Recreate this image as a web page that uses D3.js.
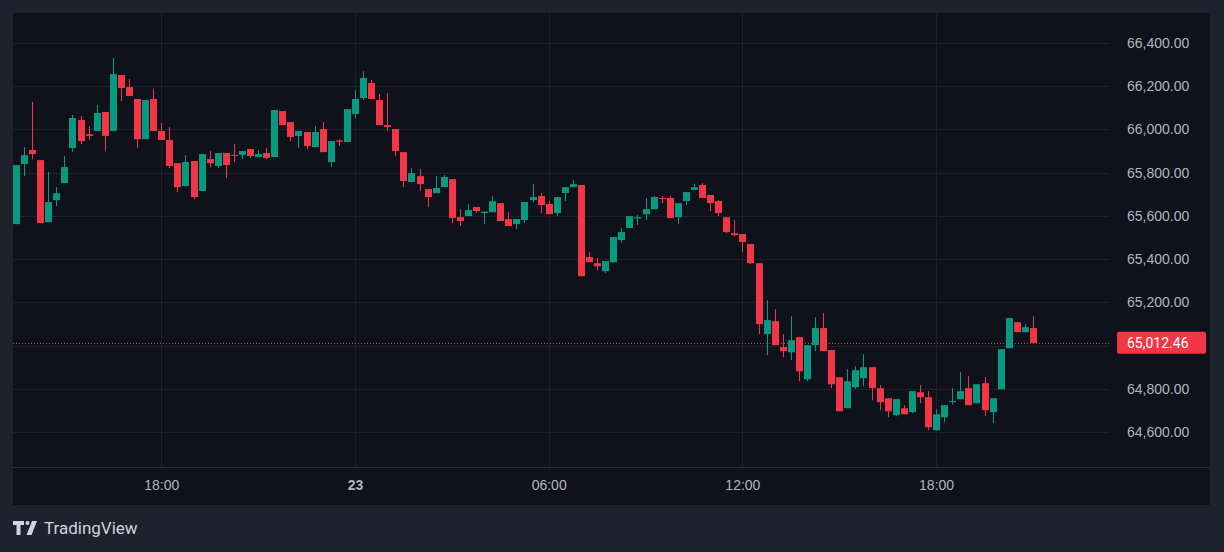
<!DOCTYPE html>
<html><head><meta charset="utf-8">
<script src="https://cdn.jsdelivr.net/npm/d3@7"></script>
<style>html,body{margin:0;padding:0;background:#1e222d;}svg{display:block;font-family:Roboto,"Noto Sans",sans-serif;}</style>
</head><body><svg id="c" width="1224" height="552"></svg>
<script>
const opens=[65562,65840,65905,65858,65571,65673,65752,65914,66044,65978,65993,66081,65993,66252,66196,66141,65955,66141,65993,65951,65844,65738,65854,65715,65863,65831,65891,65882,65882,65909,65872,65891,
65872,66085,66034,65970,65988,65918,66002,65849,65949,65942,66071,66145,66215,66136,66020,66002,65895,65757,65784,65724,65705,65733,65770,65594,65599,65641,65613,65617,65659,65585,65562,
65581,65673,65692,65655,65613,65706,65733,65743,65409,65381,65344,65386,65488,65544,65588,65608,65631,65683,65683,65594,65669,65720,65743,65697,65669,65594,65520,65516,65470,
65381,65053,65113,64993,64969,65039,64844,65002,65081,64979,64853,64710,64807,64849,64900,64803,64756,64678,64710,64692,64784,64761,64608,64668,64738,64752,64803,64733,64826,64692,64798,64988,65108,65062,65081];
const closes=[65835,65881,65886,65567,65664,65705,65826,66053,65946,65970,66076,65970,66256,66192,66155,65955,66136,65993,65951,65831,65733,65849,65687,65886,65844,65891,65835,65878,65900,65877,65886,65868,
66090,66020,65965,65993,65923,65988,65895,65946,65943,66094,66141,66238,66141,66020,66011,65900,65761,65798,65747,65687,65729,65780,65590,65576,65627,65622,65620,65668,65576,65553,65585,
65664,65687,65650,65608,65687,65733,65747,65321,65386,65367,65391,65502,65525,65599,65594,65631,65687,65678,65590,65659,65710,65733,65683,65659,65613,65525,65511,65479,65381,
65099,65118,65002,64974,65025,64881,65002,65081,64974,64821,64696,64835,64886,64900,64803,64738,64696,64752,64682,64789,64761,64622,64682,64724,64743,64789,64724,64821,64701,64756,64983,65127,65062,65085,65012];
const highs=[65835,65918,66127,65858,65803,65733,65877,66067,66062,66016,66113,66081,66331,66252,66233,66141,66136,66187,66030,66011,65844,65881,65854,65886,65900,65891,65891,65932,65900,65909,65905,65914,
66090,66085,66034,65993,65988,66016,66034,65946,65955,66094,66182,66270,66229,66164,66168,66002,65895,65821,65817,65724,65784,65789,65770,65631,65655,65641,65620,65692,65659,65617,65585,
65664,65747,65706,65669,65687,65733,65766,65743,65432,65405,65391,65502,65544,65599,65604,65683,65692,65692,65692,65659,65710,65747,65752,65697,65673,65594,65581,65516,65470,
65381,65210,65168,65053,65136,65039,65002,65131,65150,64979,64853,64891,64905,64960,64900,64817,64756,64752,64724,64789,64817,64789,64705,64724,64803,64877,64858,64821,64854,64756,64983,65127,65108,65099,65136];
const lows=[65562,65784,65863,65567,65571,65645,65752,65896,65932,65951,65993,65900,65993,66131,66155,65914,65955,65993,65951,65821,65710,65738,65678,65715,65826,65821,65775,65849,65863,65868,65872,65863,
65872,66020,65946,65914,65909,65918,65895,65826,65923,65942,66053,66136,66141,66020,65993,65877,65733,65757,65715,65641,65705,65733,65567,65553,65599,65613,65562,65617,65576,65553,65539,
65567,65664,65613,65608,65599,65669,65733,65321,65386,65349,65335,65381,65474,65544,65558,65581,65631,65659,65590,65562,65650,65720,65683,65622,65599,65520,65506,65432,65377,
65053,64955,65002,64946,64932,64835,64835,64974,64974,64803,64696,64710,64798,64812,64747,64701,64668,64673,64682,64687,64733,64608,64608,64645,64728,64752,64724,64733,64673,64641,64798,64988,65062,65062,65012];
const priceTicks=[64600,64800,65000,65200,65400,65600,65800,66000,66200,66400];
const timeTickIdx=[18,42,66,90,114];
const timeTickLabels=["18:00","23","06:00","12:00","18:00"];
const lastPrice=65012.46;

const svg=d3.select("#c");
const green="#089981", red="#f23645";
svg.append("rect").attr("x",13).attr("y",13).attr("width",1197).attr("height",492).attr("fill","#0f121a");
const x=d3.scaleLinear().domain([-0.37,135.3]).range([13,1108]);
const y=d3.scaleLinear().domain([64600,66400]).range([432,43]);
const g=svg.append("g");
g.selectAll(".hg").data(priceTicks).join("line").attr("x1",13).attr("x2",1109).attr("y1",d=>Math.round(y(d))+0.5).attr("y2",d=>Math.round(y(d))+0.5).attr("stroke","#1d212b");
g.selectAll(".vg").data(timeTickIdx).join("line").attr("y1",13).attr("y2",467).attr("x1",d=>Math.round(x(d))+0.5).attr("x2",d=>Math.round(x(d))+0.5).attr("stroke","#1d212b");
svg.append("line").attr("x1",13).attr("x2",1210).attr("y1",467.5).attr("y2",467.5).attr("stroke","#2a2e39");
// y axis (label hidden where last-price box sits)
const ya=d3.axisRight(y).tickValues(priceTicks).tickSize(0).tickPadding(0)
  .tickFormat(d=>Math.abs(y(d)-y(lastPrice))<16?"":d3.format(",.2f")(d));
const yg=svg.append("g").attr("transform","translate(1127,0)").call(ya);
yg.select(".domain").remove();
yg.selectAll("text").attr("fill","#b2b5be").style("font-size","14px");
const xa=d3.axisBottom(x).tickValues(timeTickIdx).tickSize(0).tickPadding(0).tickFormat((d,i)=>timeTickLabels[i]);
const xg=svg.append("g").attr("transform","translate(0,480)").call(xa);
xg.select(".domain").remove();
xg.selectAll("text").attr("fill","#b2b5be").style("font-size","14px").attr("dy","0.71em").style("font-weight",(d,i)=>timeTickLabels[i]==="23"?"bold":"normal");
const idx=d3.range(opens.length);
const cg=svg.append("g");
cg.selectAll(".w").data(idx).join("line").attr("x1",i=>Math.round(x(i))+0.5).attr("x2",i=>Math.round(x(i))+0.5)
 .attr("y1",i=>y(highs[i])).attr("y2",i=>y(lows[i])).attr("stroke",i=>closes[i]>=opens[i]?green:red);
cg.selectAll(".b").data(idx).join("rect").attr("x",i=>Math.round(x(i))-3).attr("width",7)
 .attr("y",i=>y(Math.max(opens[i],closes[i]))).attr("height",i=>Math.max(1,Math.abs(y(opens[i])-y(closes[i]))))
 .attr("fill",i=>closes[i]>=opens[i]?green:red);
svg.append("line").attr("x1",13).attr("x2",1109).attr("y1",Math.round(y(lastPrice))+0.5).attr("y2",Math.round(y(lastPrice))+0.5)
 .attr("stroke",red).attr("stroke-dasharray","1,2").attr("stroke-width",1).attr("stroke-opacity",0.9);
svg.append("rect").attr("x",1117).attr("y",y(lastPrice)-11).attr("width",89).attr("height",22).attr("rx",2).attr("fill",red);
svg.append("text").attr("x",1127).attr("y",y(lastPrice)+5).attr("fill","#fff").style("font-size","14px").text(d3.format(",.2f")(lastPrice));
const lg=svg.append("g").attr("transform","translate(13,521)");
lg.append("path").attr("d","M0 0h11v4h-3.5v10h-4v-10h-3.5z").attr("fill","#d1d4dc");
lg.append("circle").attr("cx",14.5).attr("cy",2).attr("r",2).attr("fill","#d1d4dc");
lg.append("path").attr("d","M19 0h5l-5.5 14h-5z").attr("fill","#d1d4dc");
svg.append("text").attr("x",44).attr("y",534).attr("fill","#d1d4dc").style("font-size","17px").text("TradingView");
</script></body></html>
